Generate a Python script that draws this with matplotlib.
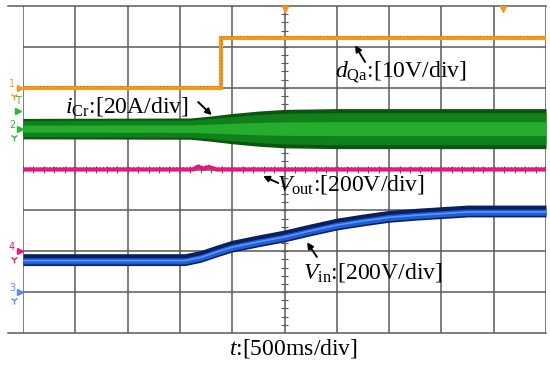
import numpy as np
import matplotlib
matplotlib.use("Agg")
import matplotlib.pyplot as plt

plt.rcParams['font.family'] = ['Liberation Serif', 'DejaVu Serif']
plt.rcParams['mathtext.fontset'] = 'custom'
plt.rcParams['mathtext.rm'] = 'Liberation Serif'
plt.rcParams['mathtext.it'] = 'Liberation Serif:italic'

# all values in scope divisions (10 x 8 grid)
# d_Qa gate signal (orange)
dqa_t = [0.0, 3.78, 3.78, 10.0]
dqa_v = [6.0, 6.0, 7.21, 7.21]

# i_Cr resonant current envelope (green), centre and half-width
icr_t = [0.0, 3.2, 3.6, 4.0, 4.5, 5.0, 6.0, 10.0]
icr_hw = [0.25, 0.26, 0.31, 0.37, 0.43, 0.47, 0.49, 0.49]
icr_mid = 5.0

# V_out (magenta)
vout_t = [0.0, 3.25, 3.35, 3.45, 3.55, 3.7, 10.0]
vout_v = [4.0, 4.0, 4.07, 4.02, 4.06, 4.0, 4.0]

# V_in (blue)
vin_t = [0.0, 3.1, 3.4, 3.7, 4.0, 4.5, 5.0, 5.5, 6.0, 6.5, 7.0, 7.5, 8.0, 8.5, 10.0]
vin_v = [1.77, 1.77, 1.85, 1.98, 2.10, 2.23, 2.35, 2.50, 2.64, 2.74, 2.83, 2.88, 2.92, 2.96, 2.96]

# channel reference markers: (label, level, colour)
channels = [('1', 6.0, '#f39a1e'), ('2', 5.0, '#2fb838'),
            ('4', 2.0, '#e8177d'), ('3', 1.0, '#5b8df0')]

fig = plt.figure(figsize=(5.5, 3.68), dpi=100)
ax = fig.add_axes([23 / 550, 35 / 368, 523 / 550, 327 / 368])
ax.set_xlim(0, 10)
ax.set_ylim(0, 8)
ax.axis('off')

grid_c = '#5a5a5a'
ax.vlines(range(0, 11), 0, 8, color=grid_c, lw=1.1, zorder=1)
ax.hlines(range(1, 8), 0, 10, color=grid_c, lw=1.1, zorder=1)
ax.plot([-0.29, 10], [8, 8], color=grid_c, lw=1.1, clip_on=False, zorder=1)
ax.plot([-0.29, 10], [0, 0], color=grid_c, lw=1.1, clip_on=False, zorder=1)

# centre-line minor ticks
minor_y = np.arange(0, 8.01, 0.2)
minor_x = np.arange(0, 10.01, 0.2)
ax.hlines(minor_y, 4.93, 5.07, color=grid_c, lw=0.8, zorder=1)
ax.vlines(minor_x, 3.92, 4.08, color=grid_c, lw=0.8, zorder=1)

# green i_Cr band
t = np.array(icr_t)
hw = np.array(icr_hw)
ax.fill_between(t, icr_mid - hw, icr_mid + hw, color='#0b5510', lw=0, zorder=3)
ax.fill_between(t, icr_mid - hw * 0.8, icr_mid + hw * 0.8, color='#10801a', lw=0, zorder=3)
ax.fill_between(t, icr_mid - hw * 0.35, icr_mid + hw * 0.35, color='#26ad2e', lw=0, zorder=3)

# orange d_Qa
ax.plot(dqa_t, dqa_v, color='#f39a1e', lw=3.0, solid_joinstyle='miter', zorder=4)
ax.plot(dqa_t, np.array(dqa_v) + 0.045, color='#a85a10', lw=0.6,
        ls=(0, (1, 3)), zorder=4)

# magenta V_out
ax.plot(vout_t, vout_v, color='#e8177d', lw=3.0, zorder=4)
ax.plot(vout_t, np.array(vout_v) + 0.05, color='#8a0f45', lw=0.6,
        ls=(0, (1, 3)), zorder=4)

# blue V_in
vt = np.array(vin_t)
vv = np.array(vin_v)
ax.fill_between(vt, vv - 0.12, vv + 0.17, color='#0c1f5e', lw=0, zorder=4)
ax.fill_between(vt, vv - 0.08, vv + 0.07, color='#1f5fd6', lw=0, zorder=4)
ax.plot(vt, vv, color='#5b95f5', lw=1.2, zorder=4)

# trigger markers on top
ax.plot([5.0, 9.18], [7.92, 7.92], 'v', color='#f39a1e', ms=5, clip_on=False, zorder=5)

# channel markers on the left
for lab, lev, col in channels:
    ax.text(-0.21, lev + 0.1, lab, color=col, fontsize=7, ha='center', va='center',
            family='DejaVu Sans', clip_on=False)
    ax.plot([-0.06], [lev], '>', color=col, ms=4, clip_on=False, zorder=5)
    ax.plot([-0.17], [lev - 0.2], '1', color=col, ms=5.5, mew=1.0, clip_on=False, zorder=5)
ax.text(-0.1, 5.68, 'T', color='#2fb838', fontsize=7, ha='center', va='center',
        family='DejaVu Sans', clip_on=False)
ax.plot([-0.1], [5.42], '>', color='#2fb838', ms=4, clip_on=False, zorder=5)

# labels
fs = 17
arr = dict(arrowstyle='-|>', color='black', lw=1.4, mutation_scale=9,
           shrinkA=0, shrinkB=0)
ax.text(5.97, 6.38, r'$d_{\mathrm{Qa}}$:[10V/div]', fontsize=fs, va='center', ha='left', zorder=6)
ax.annotate('', xy=(6.35, 7.04), xytext=(6.54, 6.63), arrowprops=arr, zorder=6)

ax.text(0.80, 5.53, r'$i_{\mathrm{Cr}}$:[20A/div]', fontsize=fs, va='center', ha='left', zorder=6)
ax.annotate('', xy=(3.61, 5.33), xytext=(3.35, 5.65), arrowprops=arr, zorder=6)

ax.text(4.85, 3.64, r'$V_{\mathrm{out}}$:[200V/div]', fontsize=fs, va='center', ha='left', zorder=6)
ax.annotate('', xy=(4.59, 3.84), xytext=(4.88, 3.67), arrowprops=arr, zorder=6)

ax.text(5.35, 1.47, r'$V_{\mathrm{in}}$:[200V/div]', fontsize=fs, va='center', ha='left', zorder=6)
ax.annotate('', xy=(5.43, 2.22), xytext=(5.62, 1.86), arrowprops=arr, zorder=6)

ax.text(5.18, -0.37, r'$t$:[500ms/div]', fontsize=fs, va='center', ha='center', clip_on=False)

fig.savefig('out.png', dpi=100, facecolor='white')
